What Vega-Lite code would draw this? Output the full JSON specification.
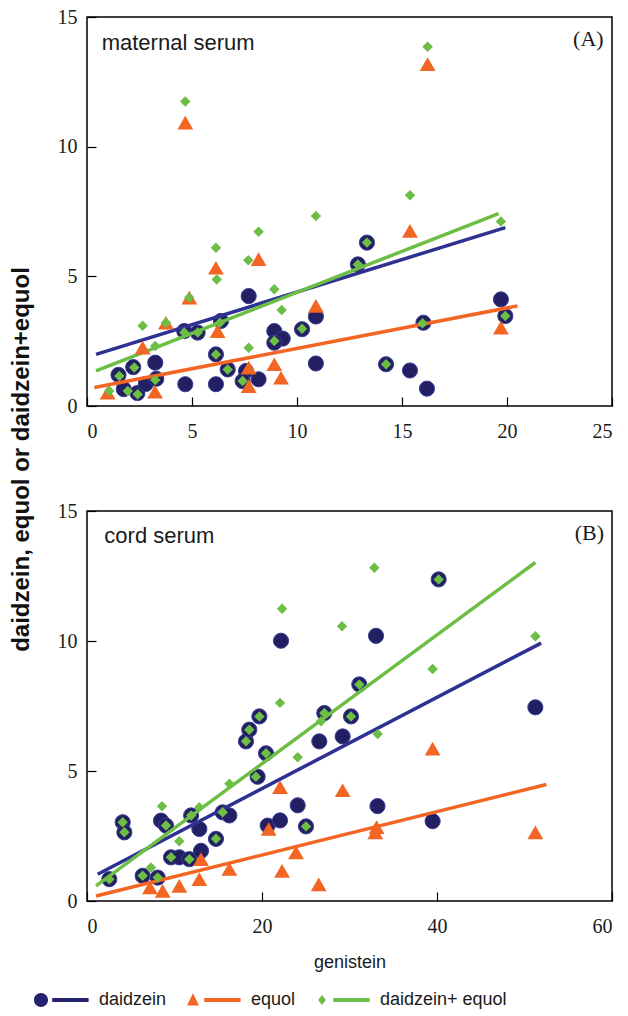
{
  "$schema": "https://vega.github.io/schema/vega-lite/v6.json",
  "padding": {"left": 8, "top": 6, "right": 2, "bottom": 2},
  "background": "white",
  "config": {
    "view": {"stroke": "#000", "strokeWidth": 1.5},
    "axis": {"domain": false, "grid": false, "labelFont": "Liberation Serif", "labelFontSize": 20, "labelColor": "#1a1a1a", "tickColor": "#000", "tickSize": -9, "tickWidth": 1.2, "titleFont": "Liberation Sans", "titleFontSize": 18, "titleFontWeight": "normal", "titleColor": "#1a1a1a"}
  },
  "datasets": {
    "pts": [
      {"p": "A", "s": "daidzein", "x": 1.5, "y": 1.2},
      {"p": "A", "s": "daidzein", "x": 1.75, "y": 0.65},
      {"p": "A", "s": "daidzein", "x": 2.2, "y": 1.5},
      {"p": "A", "s": "daidzein", "x": 2.4, "y": 0.5},
      {"p": "A", "s": "daidzein", "x": 2.8, "y": 0.85},
      {"p": "A", "s": "daidzein", "x": 3.25, "y": 1.67},
      {"p": "A", "s": "daidzein", "x": 3.3, "y": 1.05},
      {"p": "A", "s": "daidzein", "x": 4.68, "y": 0.84},
      {"p": "A", "s": "daidzein", "x": 4.63, "y": 2.89},
      {"p": "A", "s": "daidzein", "x": 5.27, "y": 2.83},
      {"p": "A", "s": "daidzein", "x": 6.38, "y": 3.28},
      {"p": "A", "s": "daidzein", "x": 6.14, "y": 0.84},
      {"p": "A", "s": "daidzein", "x": 6.14, "y": 1.99},
      {"p": "A", "s": "daidzein", "x": 6.7, "y": 1.41},
      {"p": "A", "s": "daidzein", "x": 7.7, "y": 4.24},
      {"p": "A", "s": "daidzein", "x": 7.57, "y": 1.35},
      {"p": "A", "s": "daidzein", "x": 7.41, "y": 0.96},
      {"p": "A", "s": "daidzein", "x": 8.17, "y": 1.03},
      {"p": "A", "s": "daidzein", "x": 8.92, "y": 2.89},
      {"p": "A", "s": "daidzein", "x": 9.32, "y": 2.6},
      {"p": "A", "s": "daidzein", "x": 8.92, "y": 2.44},
      {"p": "A", "s": "daidzein", "x": 10.24, "y": 2.96},
      {"p": "A", "s": "daidzein", "x": 10.9, "y": 3.45},
      {"p": "A", "s": "daidzein", "x": 10.9, "y": 1.64},
      {"p": "A", "s": "daidzein", "x": 12.9, "y": 5.46},
      {"p": "A", "s": "daidzein", "x": 13.33, "y": 6.3},
      {"p": "A", "s": "daidzein", "x": 14.24, "y": 1.61},
      {"p": "A", "s": "daidzein", "x": 15.38, "y": 1.37},
      {"p": "A", "s": "daidzein", "x": 16.02, "y": 3.21},
      {"p": "A", "s": "daidzein", "x": 16.19, "y": 0.67},
      {"p": "A", "s": "daidzein", "x": 19.71, "y": 4.11},
      {"p": "A", "s": "daidzein", "x": 19.92, "y": 3.47},
      {"p": "A", "s": "equol", "x": 0.98, "y": 0.51},
      {"p": "A", "s": "equol", "x": 2.65, "y": 2.25},
      {"p": "A", "s": "equol", "x": 3.24, "y": 0.55},
      {"p": "A", "s": "equol", "x": 3.76, "y": 3.21},
      {"p": "A", "s": "equol", "x": 4.68, "y": 10.93},
      {"p": "A", "s": "equol", "x": 4.87, "y": 4.18},
      {"p": "A", "s": "equol", "x": 6.14, "y": 5.33},
      {"p": "A", "s": "equol", "x": 6.22, "y": 2.89},
      {"p": "A", "s": "equol", "x": 7.7, "y": 1.48},
      {"p": "A", "s": "equol", "x": 7.7, "y": 0.77},
      {"p": "A", "s": "equol", "x": 8.17, "y": 5.66},
      {"p": "A", "s": "equol", "x": 8.92, "y": 1.61},
      {"p": "A", "s": "equol", "x": 9.24, "y": 1.09},
      {"p": "A", "s": "equol", "x": 10.9, "y": 3.86},
      {"p": "A", "s": "equol", "x": 15.38, "y": 6.75},
      {"p": "A", "s": "equol", "x": 16.22, "y": 13.18},
      {"p": "A", "s": "equol", "x": 19.71, "y": 3.02},
      {"p": "A", "s": "daidzein+ equol", "x": 1.06, "y": 0.58},
      {"p": "A", "s": "daidzein+ equol", "x": 1.54, "y": 1.16},
      {"p": "A", "s": "daidzein+ equol", "x": 1.94, "y": 0.58},
      {"p": "A", "s": "daidzein+ equol", "x": 2.25, "y": 1.48},
      {"p": "A", "s": "daidzein+ equol", "x": 2.41, "y": 0.45},
      {"p": "A", "s": "daidzein+ equol", "x": 2.65, "y": 3.09},
      {"p": "A", "s": "daidzein+ equol", "x": 3.25, "y": 2.31},
      {"p": "A", "s": "daidzein+ equol", "x": 3.25, "y": 1.0},
      {"p": "A", "s": "daidzein+ equol", "x": 3.76, "y": 3.21},
      {"p": "A", "s": "daidzein+ equol", "x": 4.68, "y": 11.74},
      {"p": "A", "s": "daidzein+ equol", "x": 4.87, "y": 4.18},
      {"p": "A", "s": "daidzein+ equol", "x": 4.63, "y": 2.83},
      {"p": "A", "s": "daidzein+ equol", "x": 5.27, "y": 2.83},
      {"p": "A", "s": "daidzein+ equol", "x": 6.14, "y": 6.1},
      {"p": "A", "s": "daidzein+ equol", "x": 6.18, "y": 4.88},
      {"p": "A", "s": "daidzein+ equol", "x": 6.14, "y": 1.99},
      {"p": "A", "s": "daidzein+ equol", "x": 6.33, "y": 3.21},
      {"p": "A", "s": "daidzein+ equol", "x": 6.7, "y": 1.41},
      {"p": "A", "s": "daidzein+ equol", "x": 7.41, "y": 0.96},
      {"p": "A", "s": "daidzein+ equol", "x": 7.7, "y": 2.25},
      {"p": "A", "s": "daidzein+ equol", "x": 7.68, "y": 5.62},
      {"p": "A", "s": "daidzein+ equol", "x": 8.17, "y": 6.72},
      {"p": "A", "s": "daidzein+ equol", "x": 8.92, "y": 4.5},
      {"p": "A", "s": "daidzein+ equol", "x": 8.92, "y": 2.51},
      {"p": "A", "s": "daidzein+ equol", "x": 9.27, "y": 3.7},
      {"p": "A", "s": "daidzein+ equol", "x": 10.24, "y": 2.98},
      {"p": "A", "s": "daidzein+ equol", "x": 10.9, "y": 7.33},
      {"p": "A", "s": "daidzein+ equol", "x": 12.9, "y": 5.46},
      {"p": "A", "s": "daidzein+ equol", "x": 13.33, "y": 6.3},
      {"p": "A", "s": "daidzein+ equol", "x": 14.24, "y": 1.61},
      {"p": "A", "s": "daidzein+ equol", "x": 15.38, "y": 8.13},
      {"p": "A", "s": "daidzein+ equol", "x": 15.98, "y": 3.19},
      {"p": "A", "s": "daidzein+ equol", "x": 16.22, "y": 13.85},
      {"p": "A", "s": "daidzein+ equol", "x": 19.71, "y": 7.11},
      {"p": "A", "s": "daidzein+ equol", "x": 19.92, "y": 3.47},
      {"p": "B", "s": "daidzein", "x": 2.55, "y": 0.84},
      {"p": "B", "s": "daidzein", "x": 4.08, "y": 3.03},
      {"p": "B", "s": "daidzein", "x": 4.27, "y": 2.64},
      {"p": "B", "s": "daidzein", "x": 6.36, "y": 0.97},
      {"p": "B", "s": "daidzein", "x": 8.08, "y": 0.9},
      {"p": "B", "s": "daidzein", "x": 8.46, "y": 3.09},
      {"p": "B", "s": "daidzein", "x": 9.03, "y": 2.9},
      {"p": "B", "s": "daidzein", "x": 9.6, "y": 1.68},
      {"p": "B", "s": "daidzein", "x": 10.55, "y": 1.68},
      {"p": "B", "s": "daidzein", "x": 11.7, "y": 1.61},
      {"p": "B", "s": "daidzein", "x": 11.9, "y": 3.29},
      {"p": "B", "s": "daidzein", "x": 12.84, "y": 2.77},
      {"p": "B", "s": "daidzein", "x": 13.03, "y": 1.93},
      {"p": "B", "s": "daidzein", "x": 14.74, "y": 2.39},
      {"p": "B", "s": "daidzein", "x": 15.5, "y": 3.41},
      {"p": "B", "s": "daidzein", "x": 16.27, "y": 3.29},
      {"p": "B", "s": "daidzein", "x": 18.17, "y": 6.14},
      {"p": "B", "s": "daidzein", "x": 18.55, "y": 6.59},
      {"p": "B", "s": "daidzein", "x": 19.7, "y": 7.1},
      {"p": "B", "s": "daidzein", "x": 19.5, "y": 4.78},
      {"p": "B", "s": "daidzein", "x": 20.46, "y": 5.68},
      {"p": "B", "s": "daidzein", "x": 20.65, "y": 2.9},
      {"p": "B", "s": "daidzein", "x": 22.06, "y": 3.1},
      {"p": "B", "s": "daidzein", "x": 22.17, "y": 10.01},
      {"p": "B", "s": "daidzein", "x": 24.08, "y": 3.68},
      {"p": "B", "s": "daidzein", "x": 25.03, "y": 2.87},
      {"p": "B", "s": "daidzein", "x": 26.55, "y": 6.14},
      {"p": "B", "s": "daidzein", "x": 27.12, "y": 7.23},
      {"p": "B", "s": "daidzein", "x": 29.22, "y": 6.33},
      {"p": "B", "s": "daidzein", "x": 30.17, "y": 7.1},
      {"p": "B", "s": "daidzein", "x": 31.12, "y": 8.33},
      {"p": "B", "s": "daidzein", "x": 33.03, "y": 10.2},
      {"p": "B", "s": "daidzein", "x": 33.2, "y": 3.65},
      {"p": "B", "s": "daidzein", "x": 39.5, "y": 3.07},
      {"p": "B", "s": "daidzein", "x": 40.19, "y": 12.37},
      {"p": "B", "s": "daidzein", "x": 51.24, "y": 7.45},
      {"p": "B", "s": "equol", "x": 7.2, "y": 0.52},
      {"p": "B", "s": "equol", "x": 8.65, "y": 0.39},
      {"p": "B", "s": "equol", "x": 10.55, "y": 0.58},
      {"p": "B", "s": "equol", "x": 12.84, "y": 0.84},
      {"p": "B", "s": "equol", "x": 13.03, "y": 1.61},
      {"p": "B", "s": "equol", "x": 16.27, "y": 1.23},
      {"p": "B", "s": "equol", "x": 20.76, "y": 2.77},
      {"p": "B", "s": "equol", "x": 22.06, "y": 4.38},
      {"p": "B", "s": "equol", "x": 22.29, "y": 1.16},
      {"p": "B", "s": "equol", "x": 23.89, "y": 1.87},
      {"p": "B", "s": "equol", "x": 26.48, "y": 0.64},
      {"p": "B", "s": "equol", "x": 29.22, "y": 4.26},
      {"p": "B", "s": "equol", "x": 32.95, "y": 2.64},
      {"p": "B", "s": "equol", "x": 33.1, "y": 2.84},
      {"p": "B", "s": "equol", "x": 39.5, "y": 5.86},
      {"p": "B", "s": "equol", "x": 51.24, "y": 2.64},
      {"p": "B", "s": "daidzein+ equol", "x": 2.55, "y": 0.84},
      {"p": "B", "s": "daidzein+ equol", "x": 4.08, "y": 3.03},
      {"p": "B", "s": "daidzein+ equol", "x": 4.27, "y": 2.64},
      {"p": "B", "s": "daidzein+ equol", "x": 6.36, "y": 0.97},
      {"p": "B", "s": "daidzein+ equol", "x": 7.31, "y": 1.29},
      {"p": "B", "s": "daidzein+ equol", "x": 8.08, "y": 0.9},
      {"p": "B", "s": "daidzein+ equol", "x": 8.57, "y": 3.64},
      {"p": "B", "s": "daidzein+ equol", "x": 9.03, "y": 2.9},
      {"p": "B", "s": "daidzein+ equol", "x": 9.6, "y": 1.68},
      {"p": "B", "s": "daidzein+ equol", "x": 10.55, "y": 2.3},
      {"p": "B", "s": "daidzein+ equol", "x": 11.7, "y": 1.61},
      {"p": "B", "s": "daidzein+ equol", "x": 11.9, "y": 3.29},
      {"p": "B", "s": "daidzein+ equol", "x": 12.84, "y": 3.61},
      {"p": "B", "s": "daidzein+ equol", "x": 14.74, "y": 2.39},
      {"p": "B", "s": "daidzein+ equol", "x": 15.5, "y": 3.41},
      {"p": "B", "s": "daidzein+ equol", "x": 16.27, "y": 4.51},
      {"p": "B", "s": "daidzein+ equol", "x": 18.17, "y": 6.14},
      {"p": "B", "s": "daidzein+ equol", "x": 18.55, "y": 6.59},
      {"p": "B", "s": "daidzein+ equol", "x": 19.7, "y": 7.1},
      {"p": "B", "s": "daidzein+ equol", "x": 19.3, "y": 4.78},
      {"p": "B", "s": "daidzein+ equol", "x": 20.46, "y": 5.68},
      {"p": "B", "s": "daidzein+ equol", "x": 22.06, "y": 7.62},
      {"p": "B", "s": "daidzein+ equol", "x": 22.29, "y": 11.24},
      {"p": "B", "s": "daidzein+ equol", "x": 24.08, "y": 5.53},
      {"p": "B", "s": "daidzein+ equol", "x": 25.03, "y": 2.87},
      {"p": "B", "s": "daidzein+ equol", "x": 26.74, "y": 6.91},
      {"p": "B", "s": "daidzein+ equol", "x": 27.12, "y": 7.23},
      {"p": "B", "s": "daidzein+ equol", "x": 29.14, "y": 10.57},
      {"p": "B", "s": "daidzein+ equol", "x": 30.17, "y": 7.1},
      {"p": "B", "s": "daidzein+ equol", "x": 31.12, "y": 8.33},
      {"p": "B", "s": "daidzein+ equol", "x": 32.84, "y": 12.82},
      {"p": "B", "s": "daidzein+ equol", "x": 33.22, "y": 6.42},
      {"p": "B", "s": "daidzein+ equol", "x": 39.5, "y": 8.92},
      {"p": "B", "s": "daidzein+ equol", "x": 40.19, "y": 12.37},
      {"p": "B", "s": "daidzein+ equol", "x": 51.24, "y": 10.18}
    ],
    "fit": [
      {"p": "A", "s": "daidzein", "x": 0.43, "y": 1.99},
      {"p": "A", "s": "daidzein", "x": 19.92, "y": 6.88},
      {"p": "A", "s": "equol", "x": 0.35, "y": 0.71},
      {"p": "A", "s": "equol", "x": 20.5, "y": 3.86},
      {"p": "A", "s": "daidzein+ equol", "x": 0.43, "y": 1.35},
      {"p": "A", "s": "daidzein+ equol", "x": 19.6, "y": 7.42},
      {"p": "B", "s": "daidzein", "x": 1.22, "y": 1.03},
      {"p": "B", "s": "daidzein", "x": 51.9, "y": 9.92},
      {"p": "B", "s": "equol", "x": 1.03, "y": 0.19},
      {"p": "B", "s": "equol", "x": 52.5, "y": 4.48},
      {"p": "B", "s": "daidzein+ equol", "x": 1.03, "y": 0.58},
      {"p": "B", "s": "daidzein+ equol", "x": 51.24, "y": 13.02}
    ],
    "tags": [
      {"p": "A", "nm": "maternal serum", "tg": "(A)"},
      {"p": "B", "nm": "cord serum", "tg": "(B)"}
    ]
  },
  "bounds": "flush",
  "spacing": 105,
  "resolve": {"scale": {"x": "independent", "y": "independent", "color": "shared"}},
  "vconcat": [
    {
      "width": 525,
      "height": 389,
      "layer": [
        {"data": {"name": "pts"}, "transform": [{"filter": "datum.p === 'A' && datum.s === 'daidzein'"}], "mark": {"type": "point", "shape": "circle", "filled": true, "size": 230, "color": "#221F63", "stroke": "#3A3D94", "strokeWidth": 1, "opacity": 1},
          "encoding": {
            "x": {"field": "x", "type": "quantitative", "scale": {"domain": [0, 25], "nice": false}, "axis": {"values": [0, 5, 10, 15, 20, 25], "title": null, "labelPadding": 24}},
            "y": {"field": "y", "type": "quantitative", "scale": {"domain": [0, 15], "nice": false}, "axis": {"values": [0, 5, 10, 15], "labelPadding": 19, "title": "daidzein, equol or daidzein+equol", "titleFontWeight": "bold", "titleFontSize": 24, "titleColor": "#111", "titleAnchor": "middle", "titleY": 442, "titleX": -54}}
          }},
        {"data": {"name": "fit"}, "transform": [{"filter": "datum.p === 'A'"}], "mark": {"type": "line", "strokeWidth": 3.5},
          "encoding": {
            "x": {"field": "x", "type": "quantitative"},
            "y": {"field": "y", "type": "quantitative"},
            "color": {"field": "s", "type": "nominal", "scale": {"domain": ["daidzein", "equol", "daidzein+ equol"], "range": ["#2E3192", "#F26522", "#6CBE45"]},
            "legend": {"title": null, "orient": "none", "direction": "horizontal", "legendX": -55, "legendY": 974, "labelFont": "Liberation Sans", "labelFontSize": 18, "labelColor": "#1a1a1a", "symbolSize": 196, "labelOffset": 49, "columnPadding": 17, "symbolStrokeWidth": 0,
              "encode": {"symbols": {"update": {
                "shape": {"signal": "datum.value === 'daidzein' ? 'M-1,0A1,1,0,1,1,1,0A1,1,0,1,1,-1,0Z M1.6,-0.27L6.8,-0.27L6.8,0.27L1.6,0.27Z' : datum.value === 'equol' ? 'M0,-0.95L0.85,0.8L-0.85,0.8Z M1.6,-0.27L6.8,-0.27L6.8,0.27L1.6,0.27Z' : 'M0,-0.7L0.55,0L0,0.7L-0.55,0Z M1.6,-0.27L6.8,-0.27L6.8,0.27L1.6,0.27Z'"},
                "fill": {"signal": "datum.value === 'daidzein' ? '#23226E' : datum.value === 'equol' ? '#F26522' : '#6CBE45'"},
                "stroke": {"value": "transparent"},
                "strokeWidth": {"value": 0},
                "size": {"value": 196},
                "opacity": {"value": 1}
              }}}
            }}}},
        {"data": {"name": "pts"}, "transform": [{"filter": "datum.p === 'A' && datum.s === 'equol'"}], "mark": {"type": "point", "shape": "triangle-up", "filled": true, "size": 250, "color": "#F26522", "opacity": 1},
          "encoding": {"x": {"field": "x", "type": "quantitative"}, "y": {"field": "y", "type": "quantitative"}}},
        {"data": {"name": "pts"}, "transform": [{"filter": "datum.p === 'A' && datum.s === 'daidzein+ equol'"}], "mark": {"type": "point", "shape": "diamond", "filled": true, "size": 110, "color": "#6CBE45", "opacity": 1},
          "encoding": {"x": {"field": "x", "type": "quantitative"}, "y": {"field": "y", "type": "quantitative"}}},
        {"data": {"name": "tags"}, "transform": [{"filter": "datum.p === 'A'"}], "mark": {"type": "text", "align": "left", "baseline": "middle", "font": "Liberation Sans", "fontSize": 22, "color": "#1a1a1a"},
          "encoding": {"x": {"datum": 0.7, "type": "quantitative"}, "y": {"datum": 14.0, "type": "quantitative"}, "text": {"field": "nm", "type": "nominal"}}},
        {"data": {"name": "tags"}, "transform": [{"filter": "datum.p === 'A'"}], "mark": {"type": "text", "align": "right", "baseline": "middle", "font": "Liberation Serif", "fontSize": 22, "color": "#1a1a1a"},
          "encoding": {"x": {"datum": 24.6, "type": "quantitative"}, "y": {"datum": 14.15, "type": "quantitative"}, "text": {"field": "tg", "type": "nominal"}}}
      ]
    },
    {
      "width": 525,
      "height": 390,
      "layer": [
        {"data": {"name": "pts"}, "transform": [{"filter": "datum.p === 'B' && datum.s === 'daidzein'"}], "mark": {"type": "point", "shape": "circle", "filled": true, "size": 230, "color": "#221F63", "stroke": "#3A3D94", "strokeWidth": 1, "opacity": 1},
          "encoding": {
            "x": {"field": "x", "type": "quantitative", "scale": {"domain": [0, 60], "nice": false}, "axis": {"values": [0, 20, 40, 60], "title": "genistein", "labelPadding": 24, "titlePadding": 17}},
            "y": {"field": "y", "type": "quantitative", "scale": {"domain": [0, 15], "nice": false}, "axis": {"values": [0, 5, 10, 15], "labelPadding": 19, "title": null}}
          }},
        {"data": {"name": "fit"}, "transform": [{"filter": "datum.p === 'B'"}], "mark": {"type": "line", "strokeWidth": 3.5},
          "encoding": {"x": {"field": "x", "type": "quantitative"}, "y": {"field": "y", "type": "quantitative"}, "color": {"field": "s", "type": "nominal"}}},
        {"data": {"name": "pts"}, "transform": [{"filter": "datum.p === 'B' && datum.s === 'equol'"}], "mark": {"type": "point", "shape": "triangle-up", "filled": true, "size": 250, "color": "#F26522", "opacity": 1},
          "encoding": {"x": {"field": "x", "type": "quantitative"}, "y": {"field": "y", "type": "quantitative"}}},
        {"data": {"name": "pts"}, "transform": [{"filter": "datum.p === 'B' && datum.s === 'daidzein+ equol'"}], "mark": {"type": "point", "shape": "diamond", "filled": true, "size": 110, "color": "#6CBE45", "opacity": 1},
          "encoding": {"x": {"field": "x", "type": "quantitative"}, "y": {"field": "y", "type": "quantitative"}}},
        {"data": {"name": "tags"}, "transform": [{"filter": "datum.p === 'B'"}], "mark": {"type": "text", "align": "left", "baseline": "middle", "font": "Liberation Sans", "fontSize": 22, "color": "#1a1a1a"},
          "encoding": {"x": {"datum": 1.98, "type": "quantitative"}, "y": {"datum": 14.03, "type": "quantitative"}, "text": {"field": "nm", "type": "nominal"}}},
        {"data": {"name": "tags"}, "transform": [{"filter": "datum.p === 'B'"}], "mark": {"type": "text", "align": "right", "baseline": "middle", "font": "Liberation Serif", "fontSize": 22, "color": "#1a1a1a"},
          "encoding": {"x": {"datum": 59.1, "type": "quantitative"}, "y": {"datum": 14.15, "type": "quantitative"}, "text": {"field": "tg", "type": "nominal"}}}
      ]
    }
  ]
}
